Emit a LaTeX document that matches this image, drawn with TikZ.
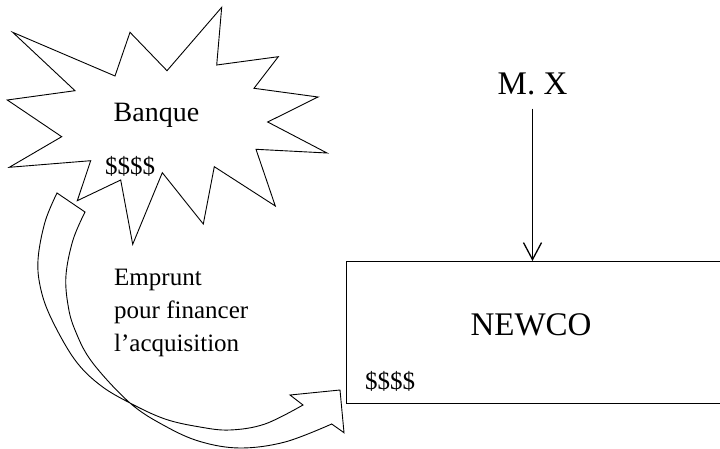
\documentclass[tikz,border=0pt]{standalone}
\usepackage{fontspec}
\setmainfont{Liberation Serif}
\usetikzlibrary{arrows.meta}
\begin{document}
\begin{tikzpicture}[x=1pt,y=-1pt, line join=miter,
  outline/.style={draw=black, line width=0.9pt},
  lbl/.style={inner sep=0pt, anchor=base west},
  arr/.style={-{Straight Barb[length=17pt,width=18pt]}, line width=1.3pt},
  big/.style={font=\fontsize{33}{40}\selectfont},
  mid/.style={font=\fontsize{28}{34}\selectfont},
  small/.style={font=\fontsize{25}{30}\selectfont}]
\path[use as bounding box, fill=white] (0,0) rectangle (720,449);

% starburst (Banque)
\draw[outline] (12.7,32.3) -- (115,76) -- (130,32.3) -- (167,70.7) -- (221.7,7.3)
  -- (216.7,65) -- (278.3,56.7) -- (254,88.3) -- (318,97) -- (267.7,122)
  -- (327,153) -- (256,149.3) -- (275.3,206) -- (214.3,166.7) -- (203.3,224)
  -- (162.3,172.7) -- (132.7,244.3) -- (120.7,180) -- (77.3,200.7)
  -- (90.7,160.7) -- (9.3,167.3) -- (61.7,136.7) -- (7.3,100) -- (75,90.7) -- cycle;
\node[mid, inner sep=0pt, anchor=base] (banque) at (156.5,122) {Banque};
\node[small, lbl] (bankcash) at (105,175) {\$\$\$\$};

% curved block arrow
\draw[outline] (57,193) -- (85,212)
  -- plot[smooth, tension=0.6] coordinates {(85,212) (73,240) (66,275) (68,305) (75,330) (92,362) (130,403) (165,426) (200,441.5) (240,448) (285,442) (331.7,424)}
  -- (344,432.7) -- (340,390) -- (290,395) -- (303,405)
  -- plot[smooth, tension=0.6] coordinates {(303,405) (265,424) (230,430) (200,427) (165,419) (130,403) (100,385) (75,360) (52,320) (41,290) (38,260) (45,222) (57,193)}
  -- cycle;

\node[small, lbl] (emp1) at (114,285) {Emprunt};
\node[small, lbl] (emp2) at (114,318) {pour financer};
\node[small, lbl] (emp3) at (114,351) {l’acquisition};

% NEWCO box
\node[draw, line width=1.1pt, minimum width=376pt, minimum height=142pt,
      inner sep=0pt, anchor=north west] (newco) at (346,261) {};
\node[big, inner sep=0pt, anchor=base] (newcolbl) at (531,335) {NEWCO};
\node[small, lbl] (boxcash) at (365,389.5) {\$\$\$\$};

% M. X
\node[big, inner sep=0pt, inner ysep=13pt, anchor=base] (mx) at (532.5,95) {M. X};
\draw[arr] (mx.south) -- (mx.south |- newco.north);
\end{tikzpicture}
\end{document}
